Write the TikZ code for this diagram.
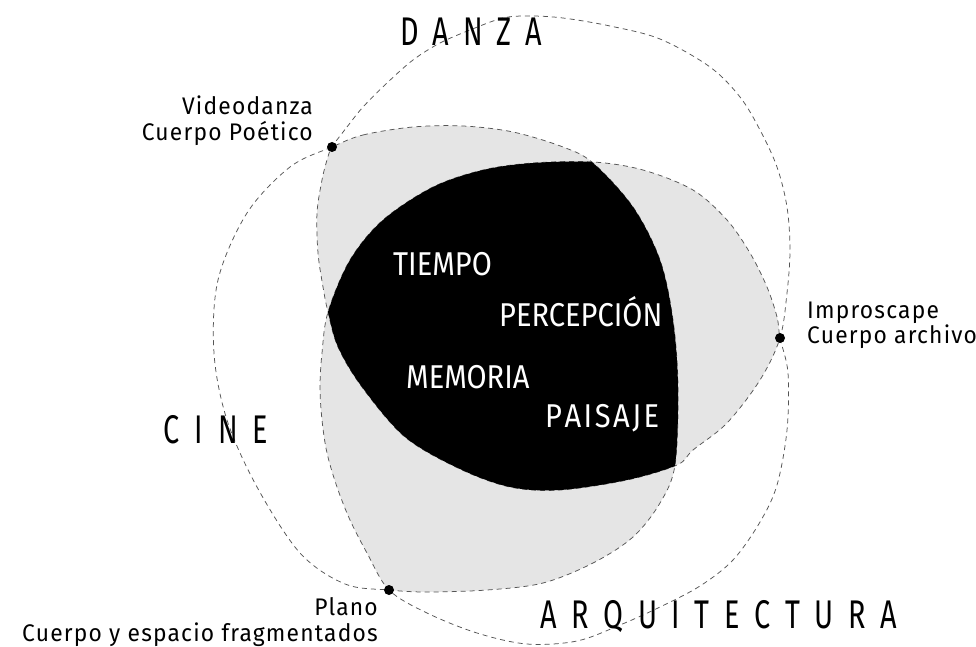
\documentclass[tikz,border=0pt]{standalone}
\usepackage{fontspec}
\setmainfont{Fira Sans}
\newfontfamily\bigf[FakeStretch=0.72]{Fira Sans}
\newfontfamily\innf[FakeStretch=0.88]{Fira Sans}
\newfontfamily\smf[FakeStretch=0.95,LetterSpace=5]{Fira Sans}
\definecolor{lgray}{HTML}{E5E5E5}
\definecolor{dashc}{HTML}{555555}
\def\danzapath{plot[smooth cycle, tension=0.55] coordinates {(332,147) (347,127) (363,107) (387,83) (413,60) (440,43) (470,30) (503,18) (530,16) (563,18) (610,26) (660,39) (710,67) (740,97) (760,130) (777,167) (787,207) (790,250) (787,293) (780,338) (760,380) (727,423) (693,450) (677,465) (627,480) (560,490) (510,487) (460,469) (405,437) (362,387) (338,347) (328,312) (323,287) (318,253) (317,213) (322,180) (327,160)}}
\def\cinepath{plot[smooth cycle, tension=0.55] coordinates {(332,147) (363,135) (413,127) (463,126) (513,132) (563,147) (593,163) (633,207) (660,260) (673,320) (678,387) (675,465) (660,503) (633,537) (593,563) (543,583) (487,590) (427,592) (389,590) (345,584) (300,553) (257,487) (227,420) (214,353) (218,280) (247,213) (290,167)}}
\def\arqpath{plot[smooth cycle, tension=0.55] coordinates {(780,338) (777,317) (767,287) (750,253) (727,220) (693,190) (643,170) (593,162) (533,163) (483,170) (433,187) (383,220) (350,260) (328,312) (322,353) (320,387) (322,420) (327,453) (337,487) (350,520) (367,553) (389,590) (427,613) (477,633) (527,644) (577,641) (620,625) (660,607) (700,586) (733,560) (760,522) (777,485) (787,430) (788,373)}}
\tikzset{
  outline/.style={draw=dashc, line width=0.75pt, dash pattern=on 5pt off 4pt},
  dotnode/.style={circle, fill=black, inner sep=0pt, minimum size=10pt},
  smalllbl/.style={inner sep=0pt, font=\smf\fontsize{24}{28}\selectfont},
  biglbl/.style={inner sep=0pt, font=\bigf\fontsize{40}{48}\selectfont},
  innerlbl/.style={inner sep=0pt, text=white, font=\innf\fontsize{33}{40}\selectfont}
}
\begin{document}
\begin{tikzpicture}[x=1pt,y=-1pt]
\useasboundingbox (0,0) rectangle (976,647);
\fill[white] (0,0) rectangle (976,647);
% pairwise overlaps
\begin{scope}
  \clip \danzapath;
  \fill[lgray] \cinepath;
  \fill[lgray] \arqpath;
\end{scope}
\begin{scope}
  \clip \cinepath;
  \fill[lgray] \arqpath;
\end{scope}
% dashed outlines
\draw[outline] \danzapath;
\draw[outline] \cinepath;
\draw[outline] \arqpath;
% triple overlap
\begin{scope}
  \clip \danzapath;
  \clip \cinepath;
  \fill[black] \arqpath;
\end{scope}
% intersection dots
\node[dotnode] (dv) at (332,147) {};
\node[dotnode] (di) at (780,338) {};
\node[dotnode] (dp) at (389,590) {};
% big labels
\node[biglbl, anchor=base west] (danza) at (400,46) {\makebox[142pt][s]{D\hfill A\hfill N\hfill Z\hfill A}};
\node[biglbl, anchor=base west] (cine) at (163,443) {\makebox[105pt][s]{C\hfill I\hfill N\hfill E}};
\node[biglbl, anchor=base west] (arq) at (540,628) {\makebox[357pt][s]{A\hfill R\hfill Q\hfill U\hfill I\hfill T\hfill E\hfill C\hfill T\hfill U\hfill R\hfill A}};
% small labels
\node[smalllbl, anchor=base east] (vd1) at (313,115) {Videodanza};
\node[smalllbl, anchor=base east] (vd2) at (313,141) {Cuerpo Poético};
\node[smalllbl, anchor=base west] (im1) at (807,318) {Improscape};
\node[smalllbl, anchor=base west] (im2) at (807,343) {Cuerpo archivo};
\node[smalllbl, anchor=base east] (pl1) at (378,615) {Plano};
\node[smalllbl, anchor=base east] (pl2) at (378,641) {Cuerpo y espacio fragmentados};
% inner labels
\node[innerlbl, anchor=base west] (t1) at (393,275) {TIEMPO};
\node[innerlbl, anchor=base west] (t2) at (499,326) {PERCEPCIÓN};
\node[innerlbl, anchor=base west] (t3) at (406,388) {MEMORIA};
\node[innerlbl, anchor=base west] (t4) at (545,427) {\makebox[114pt][s]{P\hfill A\hfill I\hfill S\hfill A\hfill J\hfill E}};
\end{tikzpicture}
\end{document}
